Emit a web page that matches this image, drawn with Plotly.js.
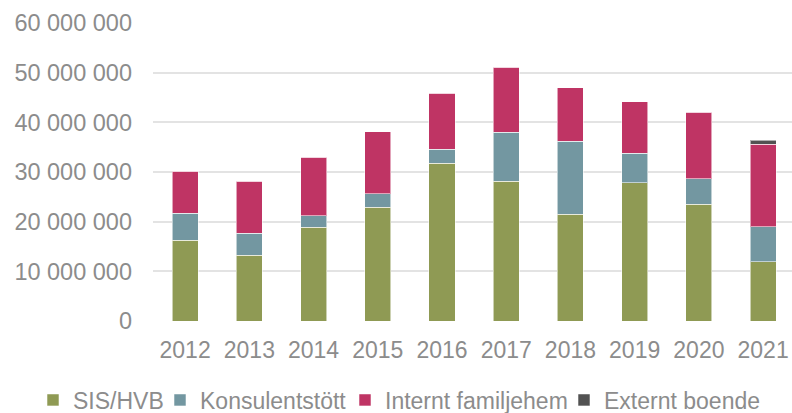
<!DOCTYPE html>
<html>
<head>
<meta charset="utf-8">
<script src="https://cdn.plot.ly/plotly-3.0.1.min.js"></script>
<style>
  html, body { margin: 0; padding: 0; background: #ffffff; }
  #chart { width: 792px; height: 413px; }
</style>
</head>
<body>
<div id="chart"></div>
<script>
const years = ['2012','2013','2014','2015','2016','2017','2018','2019','2020','2021'];
const sisHvb = [16250000, 13200000, 18900000, 22900000, 31750000, 28100000, 21500000, 27800000, 23550000, 11900000];
const konsulentstott = [5450000, 4500000, 2300000, 2700000, 2850000, 9900000, 14700000, 6000000, 5100000, 7050000];
const interntFamiljehem = [8500000, 10400000, 11800000, 12500000, 11250000, 13100000, 10800000, 10350000, 13350000, 16650000];
const externtBoende = [0, 0, 0, 0, 0, 0, 0, 0, 0, 800000];
const yTicks = [0, 10000000, 20000000, 30000000, 40000000, 50000000, 60000000];

const font = 'Liberation Sans, Arial, sans-serif';
const grey = '#8c8c8c';
const edge = {color: 'rgba(255,255,255,0.55)', width: 1};

const series = [
  {name: 'SIS/HVB', y: sisHvb, color: '#8f9a54', legend: 'legend', lx: 33},
  {name: 'Konsulentstött', y: konsulentstott, color: '#7397a1', legend: 'legend2', lx: 160},
  {name: 'Internt familjehem', y: interntFamiljehem, color: '#bf3464', legend: 'legend3', lx: 345},
  {name: 'Externt boende', y: externtBoende, color: '#525252', legend: 'legend4', lx: 564}
];

const traces = series.map(s => ({
  type: 'bar', x: years, y: s.y, name: s.name, legend: s.legend,
  marker: {color: s.color, line: edge},
  hoverinfo: 'skip'
}));

const layout = {
  width: 792, height: 413,
  margin: {l: 153, r: 0, t: 23, b: 92},
  barmode: 'stack',
  bargap: 0.595,
  separators: ', ',
  paper_bgcolor: '#ffffff', plot_bgcolor: '#ffffff',
  font: {family: font, size: 23, color: grey},
  xaxis: {
    type: 'category', range: [-0.5, 9.45],
    showgrid: false, zeroline: false, showline: false, ticks: '',
    ticklabelstandoff: 13,
    tickfont: {family: font, size: 23, color: grey},
    fixedrange: true
  },
  yaxis: {
    range: [0, 60000000], tickvals: yTicks, tickformat: ',d',
    showgrid: true, gridcolor: '#e3e3e3', gridwidth: 2,
    zeroline: false, showline: false, ticks: '',
    ticklabelstandoff: 20,
    tickfont: {family: font, size: 23.5, color: grey},
    fixedrange: true
  },
  showlegend: true
};

series.forEach(s => {
  layout[s.legend] = {
    orientation: 'h', xref: 'container', yref: 'container',
    x: s.lx / 792, xanchor: 'left', y: 13 / 413, yanchor: 'middle',
    bgcolor: 'rgba(0,0,0,0)', borderwidth: 0,
    font: {family: font, size: 23, color: grey},
    itemclick: false, itemdoubleclick: false
  };
});

Plotly.newPlot('chart', traces, layout, {staticPlot: true, displayModeBar: false});
</script>
</body>
</html>
